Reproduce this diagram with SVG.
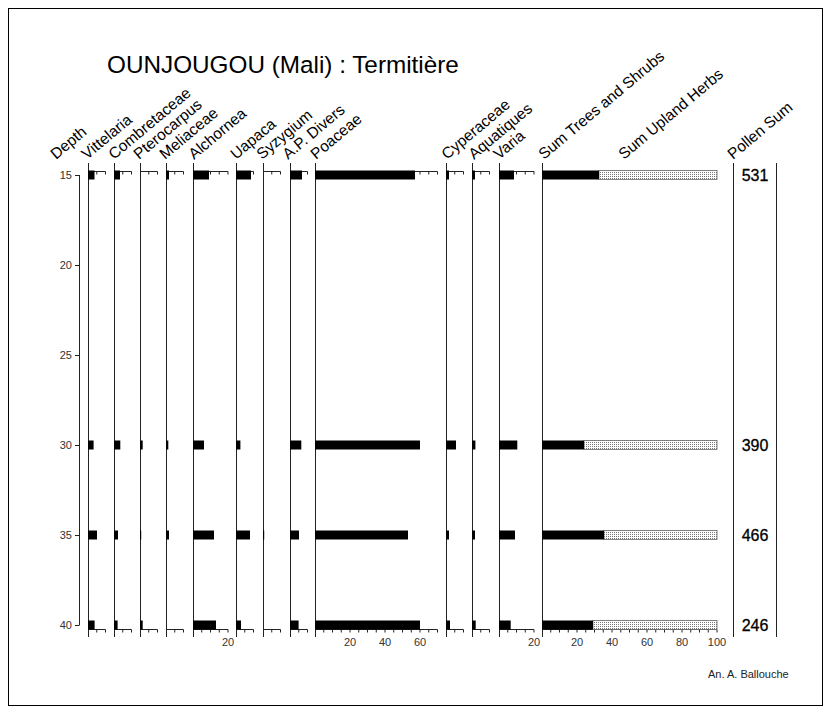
<svg xmlns="http://www.w3.org/2000/svg" width="831" height="714" viewBox="0 0 831 714">
<defs>
<pattern id="dots" width="2" height="2" patternUnits="userSpaceOnUse"><rect width="2" height="2" fill="#fff"/><rect width="1" height="1" fill="#777"/></pattern>
</defs>
<style>
text{font-family:"Liberation Sans",Arial,sans-serif;}
.h{font-size:15.5px;fill:#000;}
.d{font-size:11px;fill:#333;text-anchor:end;}
.t{font-size:11px;fill:#333;text-anchor:middle;}
.ax{stroke:#222;stroke-width:1;fill:none;}
.b{fill:#000;}
.st{fill:url(#dots);stroke:#666;stroke-width:0.8;}
.ps{font-size:16px;text-anchor:middle;fill:#000;stroke:#000;stroke-width:0.3;}
</style>
<rect x="0" y="0" width="831" height="714" fill="#fff"/>
<rect x="8.5" y="8.5" width="814" height="697" fill="none" stroke="#000" stroke-width="1"/>
<text x="107" y="73" style="font-size:24.3px">OUNJOUGOU (Mali) : Termitière</text>

<g id="depth">
<text class="h" transform="translate(56 160) rotate(-40)">Depth</text>
<path class="ax" d="M79.5 175V625M75 175.5H79.5M75 265.5H79.5M75 355.5H79.5M75 445.5H79.5M75 535.5H79.5M75 625.5H79.5"/>
<text class="d" x="72" y="179">15</text>
<text class="d" x="72" y="269">20</text>
<text class="d" x="72" y="359">25</text>
<text class="d" x="72" y="449">30</text>
<text class="d" x="72" y="539">35</text>
<text class="d" x="72" y="629">40</text>
</g>

<g id="col-vittelaria">
<text class="h" transform="translate(87 160) rotate(-40)">Vittelaria</text>
<path class="ax" d="M88.5 163V637M88 171.5H105.5M88 629.5H105.5M96.75 171.5v3M105.5 171.5v3M96.75 629.5v3M105.5 629.5v3"/>
<rect class="b" x="88" y="170.5" width="6.5" height="9"/>
<rect class="b" x="88" y="440.5" width="5.6" height="9"/>
<rect class="b" x="88" y="530.5" width="9" height="9"/>
<rect class="b" x="88" y="620.5" width="6.6" height="9"/>
</g>

<g id="col-combretaceae">
<text class="h" transform="translate(114 160) rotate(-40)">Combretaceae</text>
<path class="ax" d="M114.5 163V637M114 171.5H131.5M114 629.5H131.5M122.75 171.5v3M131.5 171.5v3M122.75 629.5v3M131.5 629.5v3"/>
<rect class="b" x="114" y="170.5" width="6" height="9"/>
<rect class="b" x="114" y="440.5" width="6.3" height="9"/>
<rect class="b" x="114" y="530.5" width="4" height="9"/>
<rect class="b" x="114" y="620.5" width="3.6" height="9"/>
</g>

<g id="col-pterocarpus">
<text class="h" transform="translate(139 160) rotate(-40)">Pterocarpus</text>
<path class="ax" d="M140.5 163V637M140 171.5H157.5M140 629.5H157.5M148.75 171.5v3M157.5 171.5v3M148.75 629.5v3M157.5 629.5v3"/>
<rect class="b" x="140" y="440.5" width="2.7" height="9"/>
<rect class="b" x="140" y="530.5" width="1.2" height="9"/>
<rect class="b" x="140" y="620.5" width="2.7" height="9"/>
</g>

<g id="col-meliaceae">
<text class="h" transform="translate(165 160) rotate(-40)">Meliaceae</text>
<path class="ax" d="M166.5 163V637M166 171.5H183.5M166 629.5H183.5M174.75 171.5v3M183.5 171.5v3M174.75 629.5v3M183.5 629.5v3"/>
<rect class="b" x="166" y="170.5" width="3" height="9"/>
<rect class="b" x="166" y="440.5" width="2.3" height="9"/>
<rect class="b" x="166" y="530.5" width="3" height="9"/>
</g>

<g id="col-alchornea">
<text class="h" transform="translate(194 160) rotate(-40)">Alchornea</text>
<path class="ax" d="M193.5 163V637M193 171.5H228M193 629.5H228M201.75 171.5v3M210.5 171.5v3M219.25 171.5v3M228 171.5v3M201.75 629.5v3M210.5 629.5v3M219.25 629.5v3M228 629.5v3"/>
<rect class="b" x="193" y="170.5" width="16" height="9"/>
<rect class="b" x="193" y="440.5" width="11" height="9"/>
<rect class="b" x="193" y="530.5" width="21" height="9"/>
<rect class="b" x="193" y="620.5" width="23" height="9"/>
<text class="t" x="228" y="646">20</text>
</g>

<g id="col-uapaca">
<text class="h" transform="translate(236 160) rotate(-40)">Uapaca</text>
<path class="ax" d="M236.5 163V637M236 171.5H253.5M236 629.5H253.5M244.75 171.5v3M253.5 171.5v3M244.75 629.5v3M253.5 629.5v3"/>
<rect class="b" x="236" y="170.5" width="15" height="9"/>
<rect class="b" x="236" y="440.5" width="4.4" height="9"/>
<rect class="b" x="236" y="530.5" width="14" height="9"/>
<rect class="b" x="236" y="620.5" width="5" height="9"/>
</g>

<g id="col-syzygium">
<text class="h" transform="translate(262 160) rotate(-40)">Syzygium</text>
<path class="ax" d="M263.5 163V637M263 171.5H280.5M263 629.5H280.5M271.75 171.5v3M280.5 171.5v3M271.75 629.5v3M280.5 629.5v3"/>
<rect class="b" x="263" y="530.5" width="1.2" height="9"/>
</g>

<g id="col-apdivers">
<text class="h" transform="translate(288 160) rotate(-40)">A.P. Divers</text>
<path class="ax" d="M290.5 163V637M290 171.5H307.5M290 629.5H307.5M298.75 171.5v3M307.5 171.5v3M298.75 629.5v3M307.5 629.5v3"/>
<rect class="b" x="290" y="170.5" width="12" height="9"/>
<rect class="b" x="290" y="440.5" width="11.3" height="9"/>
<rect class="b" x="290" y="530.5" width="9" height="9"/>
<rect class="b" x="290" y="620.5" width="8.6" height="9"/>
</g>

<g id="col-poaceae">
<text class="h" transform="translate(316 160) rotate(-40)">Poaceae</text>
<path class="ax" d="M315.5 163V637M315 171.5H437.5M315 629.5H437.5M323.75 171.5v3M332.5 171.5v3M341.25 171.5v3M350 171.5v3M358.75 171.5v3M367.5 171.5v3M376.25 171.5v3M385 171.5v3M393.75 171.5v3M402.5 171.5v3M411.25 171.5v3M420 171.5v3M428.75 171.5v3M437.5 171.5v3M323.75 629.5v3M332.5 629.5v3M341.25 629.5v3M350 629.5v3M358.75 629.5v3M367.5 629.5v3M376.25 629.5v3M385 629.5v3M393.75 629.5v3M402.5 629.5v3M411.25 629.5v3M420 629.5v3M428.75 629.5v3M437.5 629.5v3"/>
<rect class="b" x="315" y="170.5" width="100" height="9"/>
<rect class="b" x="315" y="440.5" width="105" height="9"/>
<rect class="b" x="315" y="530.5" width="93" height="9"/>
<rect class="b" x="315" y="620.5" width="105" height="9"/>
<text class="t" x="350" y="646">20</text>
<text class="t" x="385" y="646">40</text>
<text class="t" x="420" y="646">60</text>
</g>

<g id="col-cyperaceae">
<text class="h" transform="translate(447 160) rotate(-40)">Cyperaceae</text>
<path class="ax" d="M446.5 163V637M446 171.5H463.5M446 629.5H463.5M454.75 171.5v3M463.5 171.5v3M454.75 629.5v3M463.5 629.5v3"/>
<rect class="b" x="446" y="170.5" width="3" height="9"/>
<rect class="b" x="446" y="440.5" width="10" height="9"/>
<rect class="b" x="446" y="530.5" width="3" height="9"/>
<rect class="b" x="446" y="620.5" width="4" height="9"/>
</g>

<g id="col-aquatiques">
<text class="h" transform="translate(474 160) rotate(-40)">Aquatiques</text>
<path class="ax" d="M472.5 163V637M472 171.5H489.5M472 629.5H489.5M480.75 171.5v3M489.5 171.5v3M480.75 629.5v3M489.5 629.5v3"/>
<rect class="b" x="472" y="170.5" width="3" height="9"/>
<rect class="b" x="472" y="440.5" width="3.4" height="9"/>
<rect class="b" x="472" y="530.5" width="3" height="9"/>
<rect class="b" x="472" y="620.5" width="3.7" height="9"/>
</g>

<g id="col-varia">
<text class="h" transform="translate(499 160) rotate(-40)">Varia</text>
<path class="ax" d="M499.5 163V637M499 171.5H534M499 629.5H534M507.75 171.5v3M516.5 171.5v3M525.25 171.5v3M534 171.5v3M507.75 629.5v3M516.5 629.5v3M525.25 629.5v3M534 629.5v3"/>
<rect class="b" x="499" y="170.5" width="15" height="9"/>
<rect class="b" x="499" y="440.5" width="18.3" height="9"/>
<rect class="b" x="499" y="530.5" width="16" height="9"/>
<rect class="b" x="499" y="620.5" width="11.7" height="9"/>
<text class="t" x="534" y="646">20</text>
</g>

<g id="col-sums">
<text class="h" transform="translate(544 160) rotate(-40)">Sum Trees and Shrubs</text>
<text class="h" transform="translate(624 160) rotate(-40)">Sum Upland Herbs</text>
<path class="ax" d="M542.5 163V637M542 629.5H717M550.75 629.5v3M559.5 629.5v3M568.25 629.5v3M577 629.5v3M585.75 629.5v3M594.5 629.5v3M603.25 629.5v3M612 629.5v3M620.75 629.5v3M629.5 629.5v3M638.25 629.5v3M647 629.5v3M655.75 629.5v3M664.5 629.5v3M673.25 629.5v3M682 629.5v3M690.75 629.5v3M699.5 629.5v3M708.25 629.5v3M717 629.5v3"/>
<rect class="st" x="599" y="170.5" width="118" height="9"/>
<rect class="b" x="542" y="170.5" width="57" height="9"/>
<rect class="st" x="584" y="440.5" width="133" height="9"/>
<rect class="b" x="542" y="440.5" width="42" height="9"/>
<rect class="st" x="604" y="530.5" width="113" height="9"/>
<rect class="b" x="542" y="530.5" width="62" height="9"/>
<rect class="st" x="593" y="620.5" width="124" height="9"/>
<rect class="b" x="542" y="620.5" width="51" height="9"/>
<text class="t" x="577" y="646">20</text>
<text class="t" x="612" y="646">40</text>
<text class="t" x="647" y="646">60</text>
<text class="t" x="682" y="646">80</text>
<text class="t" x="717" y="646">100</text>
</g>

<g id="col-pollensum">
<text class="h" transform="translate(733 160) rotate(-40)">Pollen Sum</text>
<path class="ax" d="M733.5 163V637M776.5 163V637"/>
<text class="ps" x="755" y="181">531</text>
<text class="ps" x="755" y="451">390</text>
<text class="ps" x="755" y="541">466</text>
<text class="ps" x="755" y="631">246</text>
</g>

<text x="708" y="678" style="font-size:11px;fill:#222">An. A. Ballouche</text>
</svg>
